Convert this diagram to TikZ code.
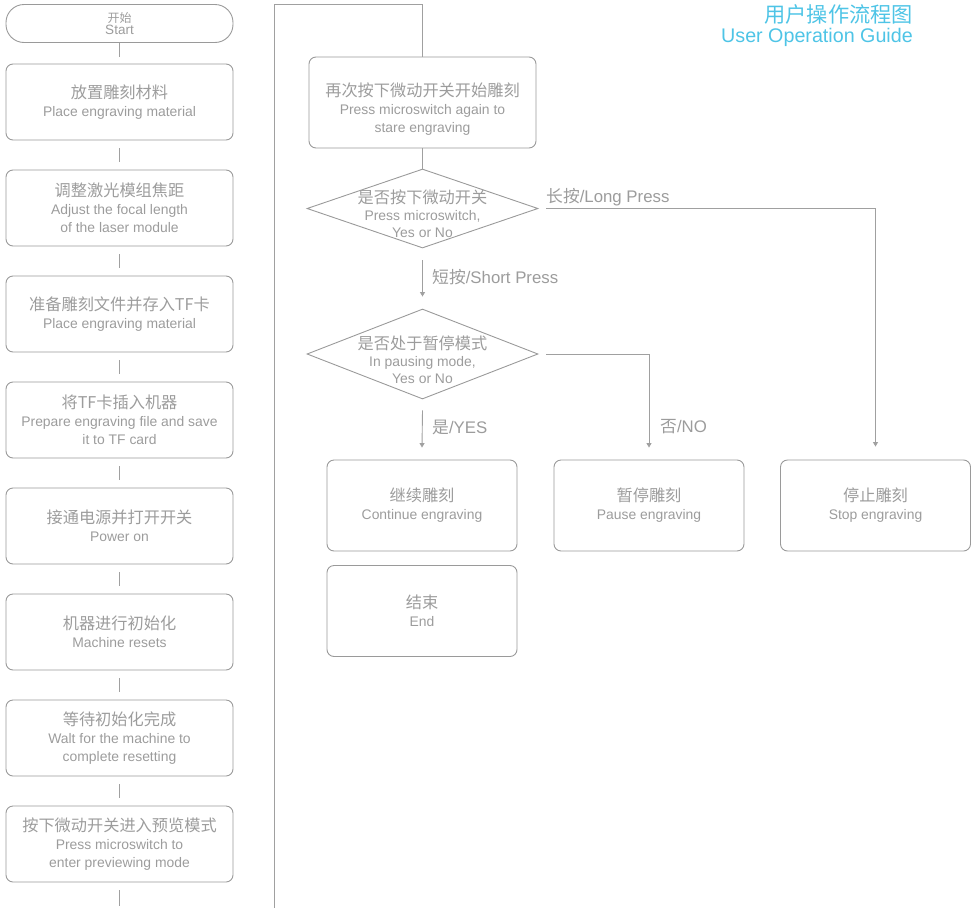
\documentclass[tikz,border=0pt]{standalone}
\usepackage{fontspec}
\setmainfont{Liberation Sans}
\newfontfamily\cjk{Noto Sans CJK SC}
\usetikzlibrary{arrows.meta,shapes.geometric}
\definecolor{linegray}{HTML}{A0A0A0}
\definecolor{boxgray}{HTML}{9A9A9A}
\definecolor{txtgray}{HTML}{9C9C9C}
\definecolor{titlecyan}{HTML}{4EC4E6}
\newcommand{\cn}[1]{{\cjk\fontsize{16.2}{18}\selectfont #1}}
\newcommand{\cnsmall}[1]{{\cjk\fontsize{12}{12}\selectfont #1}}
\begin{document}
\begin{tikzpicture}[x=1pt,y=-1pt,
  every node/.style={text=txtgray, font=\fontsize{13.9}{18}\selectfont, align=center, inner sep=0pt},
  stepbox/.style={draw=boxgray, line width=0.9pt, rounded corners=7pt, minimum width=227pt, minimum height=76pt},
  resbox/.style={draw=boxgray, line width=0.9pt, rounded corners=7pt, minimum width=190pt, minimum height=91pt},
  pill/.style={draw=boxgray, line width=0.9pt, rounded corners=18pt, minimum width=227pt, minimum height=38pt, font=\fontsize{13.5}{12.5}\selectfont},
  decide/.style={draw=boxgray, line width=0.9pt, shape=diamond, minimum width=231pt, inner sep=0pt},
  dtext/.style={font=\fontsize{13.9}{17}\selectfont},
  conn/.style={draw=linegray, line width=0.9pt},
  arr/.style={conn, -{Triangle[length=4.5pt,width=5pt]}},
  lbl/.style={anchor=west, font=\fontsize{16.8}{18}\selectfont},
  title/.style={anchor=east, text=titlecyan}
]
\useasboundingbox (0,0) rectangle (975,908);

% title
\node[title, font=\cjk\fontsize{21.2}{22}\selectfont] (t1) at (913,14) {用户操作流程图};
\node[title, font=\fontsize{19.7}{20}\selectfont] (t2) at (913,37) {User Operation Guide};

% left column
\node[pill] (start) at (119.5,23.5) {\cnsmall{开始}\\Start};
\node[stepbox] (b1) at (119.5,102) {\cn{放置雕刻材料}\\Place engraving material};
\node[stepbox] (b2) at (119.5,208) {\cn{调整激光模组焦距}\\Adjust the focal length\\of the laser module};
\node[stepbox] (b3) at (119.5,314) {\cn{准备雕刻文件并存入TF卡}\\Place engraving material};
\node[stepbox] (b4) at (119.5,420) {\cn{将TF卡插入机器}\\Prepare engraving file and save\\it to TF card};
\node[stepbox] (b5) at (119.5,526) {\cn{接通电源并打开开关}\\Power on};
\node[stepbox] (b6) at (119.5,632) {\cn{机器进行初始化}\\Machine resets};
\node[stepbox] (b7) at (119.5,738) {\cn{等待初始化完成}\\Walt for the machine to\\complete resetting};
\node[stepbox] (b8) at (119.5,844) {\cn{按下微动开关进入预览模式}\\Press microswitch to\\enter previewing mode};
\coordinate (lend) at (119.5,906);

\draw[conn] (start.south) -- ([yshift=7pt]b1.north);
\foreach \a/\b in {b1/b2,b2/b3,b3/b4,b4/b5,b5/b6,b6/b7,b7/b8}
  \draw[conn] ([yshift=-8pt]\a.south) -- ([yshift=8pt]\b.north);
\draw[conn] ([yshift=-8pt]b8.south) -- (lend);

% right part
\node[draw=boxgray, line width=0.9pt, rounded corners=7pt, minimum width=227pt, minimum height=91pt] (r1) at (422.5,102.5) {};
\node (r1t) at (422.5,109) {\cn{再次按下微动开关开始雕刻}\\Press microswitch again to\\stare engraving};

\node[decide, minimum height=79pt] (d1) at (422.5,208.5) {};
\node[dtext] (d1t) at (422.5,214) {\cn{是否按下微动开关}\\Press microswitch,\\Yes or No};
\node[decide, minimum height=90pt] (d2) at (422.5,354) {};
\node[dtext] (d2t) at (422.5,360) {\cn{是否处于暂停模式}\\In pausing mode,\\Yes or No};

\node[resbox] (cont) at (422,505.5) {\cn{继续雕刻}\\Continue engraving};
\node[resbox] (pause) at (649,505.5) {\cn{暂停雕刻}\\Pause engraving};
\node[resbox] (stop) at (875.5,505.5) {\cn{停止雕刻}\\Stop engraving};
\node[resbox] (fin) at (422,611) {\cn{结束}\\End};

\coordinate (lb) at (274,908);
\coordinate (tc) at (422.5,4);
\draw[conn] (lb) |- (tc) -- (r1.north);
\draw[conn] (r1.south) -- (d1.north);

\draw[arr] ([xshift=8pt]d1.east) -| ([yshift=13pt]stop.north);
\node[lbl] (llong) at (546,197) {{\cjk 长按}/Long Press};
\draw[arr] ([yshift=-12pt]d1.south) -- ([yshift=12pt]d2.north);
\node[lbl] (lshort) at (432,277) {{\cjk 短按}/Short Press};
\draw[arr] ([yshift=-11pt]d2.south) -- ([yshift=12pt]cont.north);
\node[lbl] (lyes) at (432,427) {{\cjk 是}/YES};
\draw[arr] ([xshift=8pt]d2.east) -| ([yshift=12pt]pause.north);
\node[lbl] (lno) at (660,427) {{\cjk 否}/NO};
\end{tikzpicture}
\end{document}
